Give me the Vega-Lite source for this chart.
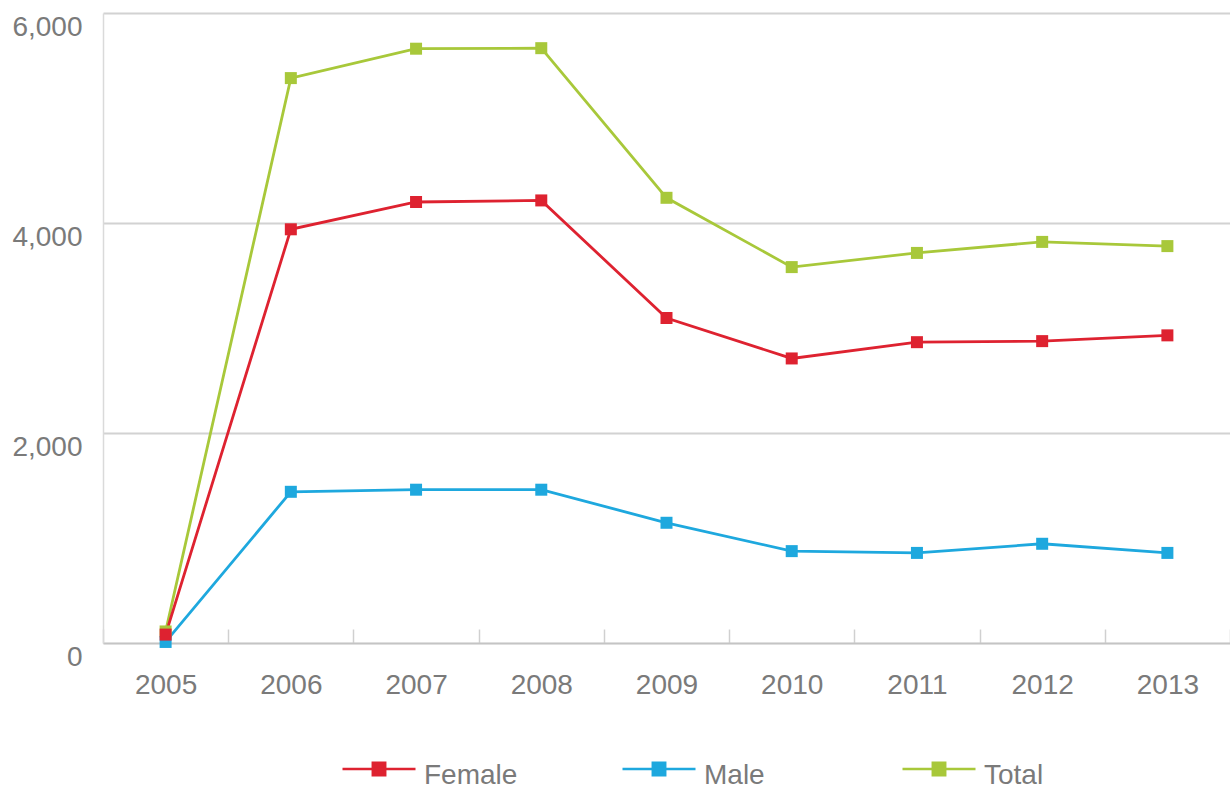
{
  "$schema": "https://vega.github.io/schema/vega-lite/v6.json",
  "width": 1127,
  "height": 630,
  "autosize": {"type": "none"},
  "padding": {"left": 103, "top": 13, "right": 0, "bottom": 152},
  "background": "white",
  "data": {
    "values": [
      {"series": "Total", "year": 2005, "value": 110},
      {"series": "Total", "year": 2006, "value": 5380},
      {"series": "Total", "year": 2007, "value": 5660},
      {"series": "Total", "year": 2008, "value": 5665},
      {"series": "Total", "year": 2009, "value": 4240},
      {"series": "Total", "year": 2010, "value": 3580},
      {"series": "Total", "year": 2011, "value": 3715},
      {"series": "Total", "year": 2012, "value": 3820},
      {"series": "Total", "year": 2013, "value": 3780},
      {"series": "Male", "year": 2005, "value": 10},
      {"series": "Male", "year": 2006, "value": 1440},
      {"series": "Male", "year": 2007, "value": 1460},
      {"series": "Male", "year": 2008, "value": 1460},
      {"series": "Male", "year": 2009, "value": 1145},
      {"series": "Male", "year": 2010, "value": 875},
      {"series": "Male", "year": 2011, "value": 858},
      {"series": "Male", "year": 2012, "value": 945},
      {"series": "Male", "year": 2013, "value": 858},
      {"series": "Female", "year": 2005, "value": 80},
      {"series": "Female", "year": 2006, "value": 3940},
      {"series": "Female", "year": 2007, "value": 4200},
      {"series": "Female", "year": 2008, "value": 4215},
      {"series": "Female", "year": 2009, "value": 3095},
      {"series": "Female", "year": 2010, "value": 2710},
      {"series": "Female", "year": 2011, "value": 2865},
      {"series": "Female", "year": 2012, "value": 2875},
      {"series": "Female", "year": 2013, "value": 2930}
    ]
  },
  "mark": {
    "type": "line",
    "strokeWidth": 2.8,
    "point": {"shape": "square", "size": 144, "filled": true, "opacity": 1}
  },
  "encoding": {
    "x": {
      "field": "year",
      "type": "ordinal",
      "scale": {"type": "band", "paddingInner": 0, "paddingOuter": 0},
      "axis": {
        "title": null,
        "labelAngle": 0,
        "grid": false,
        "domain": true,
        "domainColor": "#c4c4c4",
        "domainWidth": 1.5,
        "ticks": true,
        "tickBand": "extent",
        "tickSize": -14,
        "tickColor": "#d0d0d0",
        "tickWidth": 1.5,
        "labelPadding": 42,
        "labelBaseline": "top",
        "labelFont": "Liberation Sans",
        "labelFontSize": 28,
        "labelColor": "#7a7a7a"
      }
    },
    "y": {
      "field": "value",
      "type": "quantitative",
      "scale": {"domain": [0, 6000]},
      "axis": {
        "title": null,
        "values": [0, 2000, 4000, 6000],
        "format": ",d",
        "grid": true,
        "gridColor": "#d2d2d2",
        "gridWidth": 2,
        "domain": true,
        "domainColor": "#dadada",
        "domainWidth": 1.5,
        "ticks": false,
        "labelPadding": 21,
        "labelBaseline": "top",
        "labelFont": "Liberation Sans",
        "labelFontSize": 28,
        "labelColor": "#7a7a7a"
      }
    },
    "color": {
      "field": "series",
      "type": "nominal",
      "scale": {"domain": ["Female", "Male", "Total"], "range": ["#de2230", "#1ea8de", "#a8c83a"]},
      "legend": {
        "title": null,
        "orient": "none",
        "legendX": 238,
        "legendY": 718,
        "direction": "horizontal",
        "columns": 3,
        "gridAlign": "all",
        "columnPadding": 99,
        "padding": 0,
        "symbolType": "M-1,0L1,0M-0.17,-0.17L0.17,-0.17L0.17,0.17L-0.17,0.17Z",
        "symbolSize": 5329,
        "symbolStrokeWidth": 2.5,
        "labelFont": "Liberation Sans",
        "labelFontSize": 28,
        "labelColor": "#7a7a7a",
        "labelOffset": 7,
        "encode": {
          "symbols": {"update": {"fill": {"scale": "color", "field": "value"}, "stroke": {"scale": "color", "field": "value"}}},
          "labels": {"update": {"dy": {"value": 7}}}
        }
      }
    }
  },
  "config": {"view": {"stroke": null}}
}
